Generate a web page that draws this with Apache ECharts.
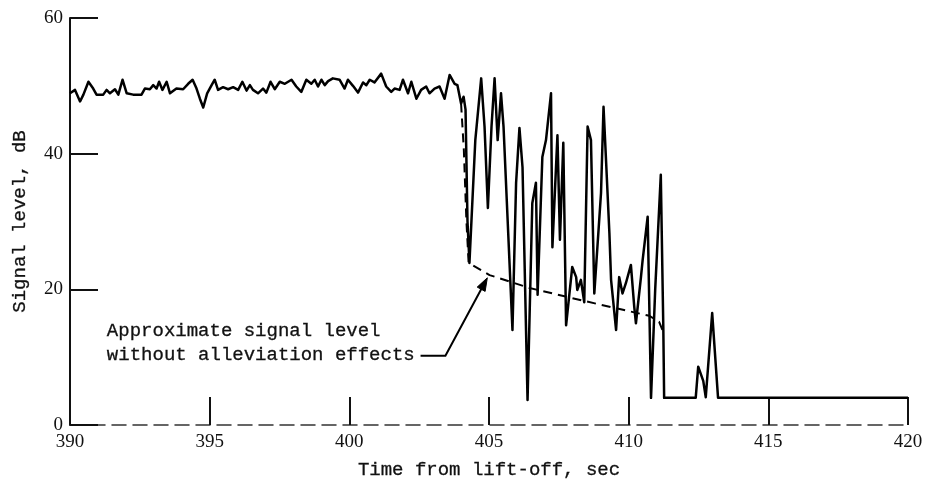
<!DOCTYPE html>
<html>
<head>
<meta charset="utf-8">
<script src="https://cdn.jsdelivr.net/npm/echarts@6/dist/echarts.min.js"></script>
<style>
  html, body { margin: 0; padding: 0; background: #fff; }
  #chart { width: 932px; height: 482px; }
</style>
</head>
<body>
<div id="chart"></div>
<script>
// Received signal level (dB) against time from lift-off (sec)
const signalTime = [
  390.00, 390.18, 390.36, 390.48, 390.66, 390.83, 390.95, 391.19, 391.31, 391.43,
  391.61, 391.73, 391.88, 392.03, 392.26, 392.56, 392.68, 392.86, 392.98, 393.10,
  393.19, 393.31, 393.46, 393.58, 393.81, 394.05, 394.23, 394.39, 394.53, 394.65,
  394.77, 394.91, 395.07, 395.18, 395.30, 395.48, 395.66, 395.84, 396.02, 396.17,
  396.32, 396.44, 396.55, 396.73, 396.91, 397.03, 397.18, 397.33, 397.51, 397.69,
  397.93, 398.10, 398.28, 398.46, 398.64, 398.76, 398.88, 399.00, 399.12, 399.24,
  399.41, 399.65, 399.83, 399.95, 400.13, 400.31, 400.49, 400.61, 400.73, 400.90,
  401.14, 401.32, 401.50, 401.62, 401.80, 401.92, 402.10, 402.22, 402.40, 402.57,
  402.75, 402.87, 403.05, 403.23, 403.41, 403.59, 403.77, 403.87, 404.00, 404.09,
  404.16, 404.23, 404.30, 404.51, 404.72, 404.84, 404.96, 405.09, 405.20, 405.31,
  405.43, 405.52, 405.84, 405.97, 406.09, 406.20, 406.38, 406.55, 406.68, 406.74,
  406.91, 407.04, 407.22, 407.27, 407.45, 407.54, 407.66, 407.76, 407.98, 408.12,
  408.16, 408.29, 408.41, 408.53, 408.65, 408.77, 409.01, 409.10, 409.19, 409.31,
  409.37, 409.55, 409.66, 409.78, 409.90, 410.08, 410.20, 410.26, 410.44, 410.50,
  410.68, 410.80, 410.95, 411.15, 411.24, 411.27, 412.40, 412.49, 412.67, 412.76,
  412.99, 413.20, 420.00
];
const signalDb = [
  48.9, 49.4, 47.7, 48.7, 50.6, 49.6, 48.7, 48.7, 49.4, 48.9,
  49.5, 48.7, 50.9, 48.9, 48.7, 48.7, 49.6, 49.5, 50.1, 49.6,
  50.6, 49.4, 50.6, 48.9, 49.6, 49.5, 50.3, 50.9, 49.6, 48.1,
  46.8, 48.9, 50.1, 50.9, 49.4, 49.8, 49.5, 49.8, 49.4, 50.6,
  49.3, 50.1, 49.4, 48.9, 49.6, 49.0, 50.6, 49.5, 50.6, 50.3,
  50.9, 49.9, 49.1, 50.9, 50.3, 50.9, 49.9, 50.9, 50.1, 50.7,
  51.1, 50.9, 49.6, 50.9, 50.0, 49.0, 50.5, 50.1, 50.9, 50.5,
  51.8, 49.9, 49.1, 49.6, 49.4, 50.9, 48.9, 50.6, 48.1, 49.4,
  49.9, 48.9, 49.6, 49.9, 48.1, 51.6, 50.3, 50.1, 47.4, 48.4,
  46.5, 30.0, 23.9, 42.0, 51.1, 44.0, 32.0, 44.0, 51.1, 42.0,
  48.9, 44.0, 14.0, 35.7, 43.8, 38.0, 3.7, 32.7, 35.7, 19.2,
  39.5, 42.0, 48.9, 26.2, 42.7, 27.3, 41.6, 14.7, 23.3, 21.8,
  19.9, 21.4, 18.1, 44.0, 42.0, 19.4, 34.2, 46.9, 39.0, 28.3,
  21.4, 14.0, 21.8, 19.4, 20.9, 23.6, 17.4, 15.0, 21.8, 24.3,
  30.7, 4.0, 20.0, 36.9, 14.5, 4.0, 4.0, 8.6, 6.5, 4.1,
  16.5, 4.0, 4.0
];

// Approximate signal level without alleviation effects (dashed)
const baselineTime = [404.00, 404.10, 404.19, 404.27, 405.02, 406.45, 407.98, 409.56, 410.74, 411.09, 411.24];
const baselineDb   = [47.4, 40.5, 30.2, 23.9, 22.1, 20.2, 18.7, 17.2, 16.1, 15.2, 13.7];

// Axis ticks
const timeTicks = [390, 395, 400, 405, 410, 415, 420];
const dbTicks = [0, 20, 40, 60];

// Callout: text lines, and the leader path (text end, elbow, arrow tip) in data units
const calloutLines = ['Approximate signal level', 'without alleviation effects'];
const calloutTextAt = [391.32, 13.9];
const calloutLineGap = 3.6;
const calloutPath = [[402.55, 10.2], [403.44, 10.2], [404.94, 21.7]];

const zip = (xs, ys) => xs.map((x, i) => [x, ys[i]]);

const mono = '"Liberation Mono", "DejaVu Sans Mono", monospace';
const serif = '"Liberation Serif", "DejaVu Serif", serif';
const ink = '#111';

const chart = echarts.init(document.getElementById('chart'), null, { renderer: 'canvas' });

chart.setOption({
  animation: false,
  backgroundColor: '#fff',
  grid: { left: 70, right: 24, top: 18, bottom: 57, containLabel: false, outerBoundsMode: 'none' },
  xAxis: {
    type: 'value',
    min: timeTicks[0],
    max: timeTicks[timeTicks.length - 1],
    interval: 5,
    name: 'Time from lift-off, sec',
    nameLocation: 'middle',
    nameGap: 35,
    nameTextStyle: { fontFamily: mono, fontSize: 19, color: ink, textBorderColor: ink, textBorderWidth: 0.3 },
    axisLine: { lineStyle: { color: '#333', width: 1.5, type: [14, 7] } },
    axisTick: { inside: true, length: 28, lineStyle: { color: ink, width: 2 } },
    axisLabel: { margin: 8, fontFamily: serif, fontSize: 19, color: ink },
    splitLine: { show: false }
  },
  yAxis: {
    type: 'value',
    min: dbTicks[0],
    max: dbTicks[dbTicks.length - 1],
    interval: 20,
    name: 'Signal level, dB',
    nameLocation: 'middle',
    nameRotate: 90,
    nameGap: 41,
    nameTextStyle: { fontFamily: mono, fontSize: 19, color: ink, textBorderColor: ink, textBorderWidth: 0.3 },
    axisLine: { show: true, lineStyle: { color: ink, width: 2 } },
    axisTick: { inside: true, length: 28, lineStyle: { color: ink, width: 2 } },
    axisLabel: { margin: 7, fontFamily: serif, fontSize: 19, color: ink },
    splitLine: { show: false }
  },
  series: [
    {
      name: 'Signal level',
      type: 'line',
      data: zip(signalTime, signalDb),
      showSymbol: false,
      lineStyle: { color: '#000', width: 2.5, join: 'round' },
      z: 3
    },
    {
      name: 'Without alleviation effects',
      type: 'line',
      data: zip(baselineTime, baselineDb),
      showSymbol: false,
      lineStyle: { color: '#000', width: 2, type: [9, 6] },
      z: 2
    }
  ]
});

// Callout text and leader arrow, placed through the chart's own coordinate system
function drawCallout() {
  const toPx = p => chart.convertToPixel({ gridIndex: 0 }, p);
  const pts = calloutPath.map(toPx);
  const tip = pts[pts.length - 1];
  const prev = pts[pts.length - 2];
  const dx = tip[0] - prev[0], dy = tip[1] - prev[1];
  const len = Math.hypot(dx, dy);
  const ux = dx / len, uy = dy / len;
  const headLen = 13, headHalf = 4.5;
  const base = [tip[0] - ux * headLen, tip[1] - uy * headLen];
  const head = [
    tip,
    [base[0] - uy * headHalf, base[1] + ux * headHalf],
    [base[0] + uy * headHalf, base[1] - ux * headHalf]
  ];
  const shaftEnd = [tip[0] - ux * (headLen - 2), tip[1] - uy * (headLen - 2)];
  const shaft = pts.slice(0, -1).concat([shaftEnd]);

  const texts = calloutLines.map((line, i) => {
    const p = toPx([calloutTextAt[0], calloutTextAt[1] - i * calloutLineGap]);
    return {
      type: 'text',
      x: p[0], y: p[1],
      style: {
        text: line,
        font: '19px ' + mono,
        fill: ink,
        stroke: ink,
        lineWidth: 0.3,
        textVerticalAlign: 'middle',
        textAlign: 'left'
      },
      z: 10
    };
  });

  chart.setOption({
    graphic: texts.concat([
      { type: 'polyline', shape: { points: shaft }, style: { stroke: '#000', lineWidth: 2, fill: null }, z: 10 },
      { type: 'polygon', shape: { points: head }, style: { fill: '#000', stroke: '#000', lineWidth: 1 }, z: 10 }
    ])
  });
}
drawCallout();
</script>
</body>
</html>
